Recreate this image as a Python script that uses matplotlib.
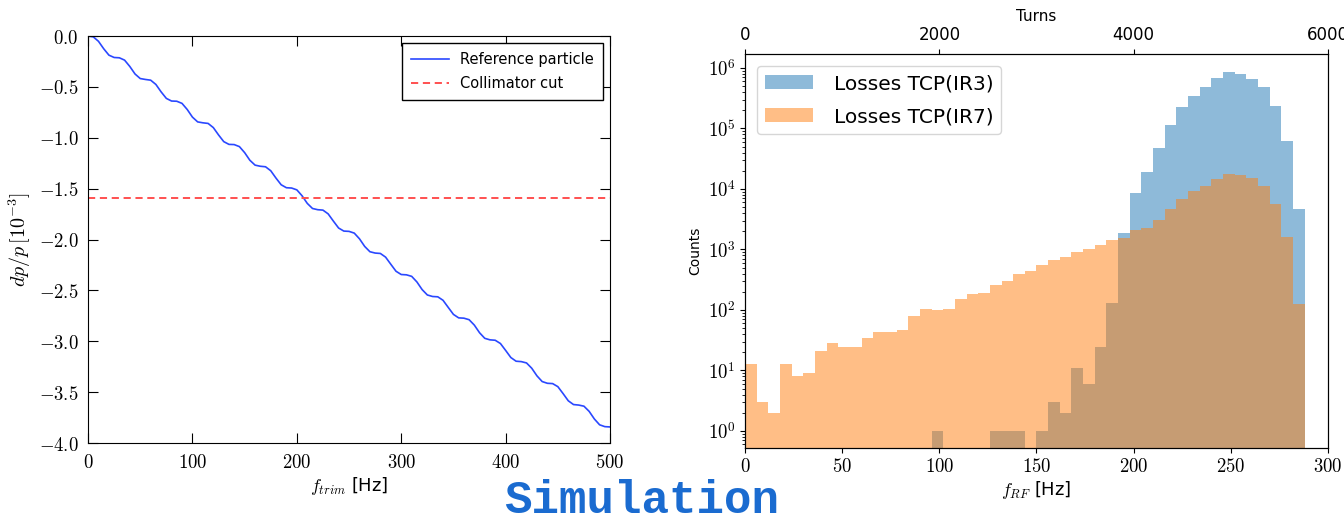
import matplotlib
matplotlib.use('Agg')
import matplotlib.pyplot as plt
from matplotlib.ticker import FuncFormatter, LogLocator, NullFormatter
import math

plt.rcParams['mathtext.fontset'] = 'cm'

# left panel: momentum offset of the reference particle vs trim frequency
f_trim = list(range(0, 501, 5))
dp_ref = [0.0, -0.008, -0.052, -0.125, -0.188, -0.211, -0.214, -0.237, -0.299, -0.373,
          -0.418, -0.427, -0.434, -0.476, -0.549, -0.613, -0.639, -0.641, -0.662, -0.722,
          -0.797, -0.844, -0.853, -0.859, -0.900, -0.972, -1.038, -1.065, -1.067, -1.087,
          -1.146, -1.221, -1.269, -1.280, -1.285, -1.324, -1.396, -1.462, -1.491, -1.494,
          -1.512, -1.570, -1.645, -1.695, -1.707, -1.711, -1.748, -1.819, -1.887, -1.917,
          -1.920, -1.937, -1.993, -2.068, -2.120, -2.133, -2.137, -2.173, -2.243, -2.312,
          -2.344, -2.347, -2.362, -2.417, -2.492, -2.545, -2.560, -2.563, -2.597, -2.667,
          -2.736, -2.770, -2.773, -2.788, -2.841, -2.916, -2.971, -2.986, -2.990, -3.022,
          -3.090, -3.160, -3.196, -3.200, -3.213, -3.265, -3.340, -3.396, -3.413, -3.416,
          -3.446, -3.514, -3.585, -3.622, -3.627, -3.638, -3.689, -3.764, -3.821, -3.839,
          -3.842]
cut_level = -1.59

# right panel: loss histograms, 6 Hz bins
rf_edges = list(range(0, 289, 6))
losses_ir3 = [0, 0, 0, 0, 0, 0, 0, 0, 0, 0,
              0, 0, 0, 0, 0, 0, 1, 0, 0, 0,
              0, 1, 1, 1, 0, 1, 3, 2, 11, 6,
              24, 130, 1900, 8600, 19000, 48000, 116000, 223000, 347000, 489000,
              673000, 846000, 802000, 655000, 477000, 231000, 61000, 4700]
losses_ir7 = [13, 3, 2, 13, 8, 9, 21, 28, 24, 24,
              35, 43, 43, 46, 79, 105, 99, 105, 153, 185,
              193, 255, 300, 387, 434, 546, 661, 740, 906, 1031,
              1170, 1415, 1545, 2070, 2300, 3030, 4610, 6940, 9160, 11200,
              14500, 17500, 17100, 14900, 11200, 5650, 1600, 127]
turn_ticks = [0, 2000, 4000, 6000]

fig = plt.figure(figsize=(13.44, 5.19), dpi=100)

# ---- left
ax1 = fig.add_axes([0.0655, 0.1464, 0.3884, 0.7842])
ax1.plot(f_trim, dp_ref, color='#2a48ff', lw=1.2, label='Reference particle')
ax1.axhline(cut_level, color='#ff5050', ls='--', lw=1.4, dashes=(3.7, 2.4),
            label='Collimator cut')
ax1.set_xlim(0, 500)
ax1.set_ylim(-4, 0)
ax1.set_xticks([0, 100, 200, 300, 400, 500])
ax1.set_yticks([0, -0.5, -1, -1.5, -2, -2.5, -3, -3.5, -4])
ax1.xaxis.set_major_formatter(FuncFormatter(lambda v, p: r'$%d$' % v))
ax1.yaxis.set_major_formatter(FuncFormatter(lambda v, p: r'$%.1f$' % v))
ax1.tick_params(direction='in', top=True, right=True, length=7, labelsize=13.5, pad=7)
ax1.set_xlabel(r'$f_{trim}$ [Hz]', fontsize=13, labelpad=2)
ax1.set_ylabel(r'$dp/p\,[10^{-3}]$', fontsize=14.5)
ax1.legend(loc='upper right', fontsize=10.5, fancybox=False, edgecolor='black',
           framealpha=1, handlelength=2.6, borderpad=0.6, labelspacing=0.6)

# ---- right
ax2 = fig.add_axes([0.5543, 0.1374, 0.4338, 0.7586])
ax2.set_yscale('log')
ax2.bar(rf_edges[:-1], losses_ir3, width=6, align='edge', color='#1f77b4',
        alpha=0.5, lw=0, label='Losses TCP(IR3)')
ax2.bar(rf_edges[:-1], losses_ir7, width=6, align='edge', color='#ff7f0e',
        alpha=0.5, lw=0, label='Losses TCP(IR7)')
ax2.set_xlim(0, 300)
ax2.set_ylim(0.53, 1.7e6)
ax2.set_xticks([0, 50, 100, 150, 200, 250, 300])
ax2.xaxis.set_major_formatter(FuncFormatter(lambda v, p: r'$%d$' % v))
ax2.yaxis.set_major_locator(LogLocator(base=10, numticks=10))
ax2.yaxis.set_minor_locator(LogLocator(base=10, subs=range(2, 10), numticks=10))
ax2.yaxis.set_minor_formatter(NullFormatter())
ax2.yaxis.set_major_formatter(FuncFormatter(lambda v, p: r'$10^{%d}$' % round(math.log10(v))))
ax2.tick_params(labelsize=13.5)
ax2.set_xlabel(r'$f_{RF}$ [Hz]', fontsize=13, labelpad=2)
ax2.set_ylabel('Counts', fontsize=10)
ax2.legend(loc='upper left', fontsize=14.5, handlelength=2.4, handletextpad=1.0,
           labelspacing=0.7, borderaxespad=0.6)

ax3 = ax2.twiny()
ax3.set_xlim(0, 6000)
ax3.set_xticks(turn_ticks)
ax3.tick_params(labelsize=12)
ax3.set_xlabel('Turns', fontsize=11)

fig.text(642 / 1344, 1 - 513 / 519, 'Simulation', family='Liberation Mono',
         fontweight='bold', fontsize=33, color='#1a6bd0', ha='center', va='baseline')

fig.savefig('out.png', dpi=100)
